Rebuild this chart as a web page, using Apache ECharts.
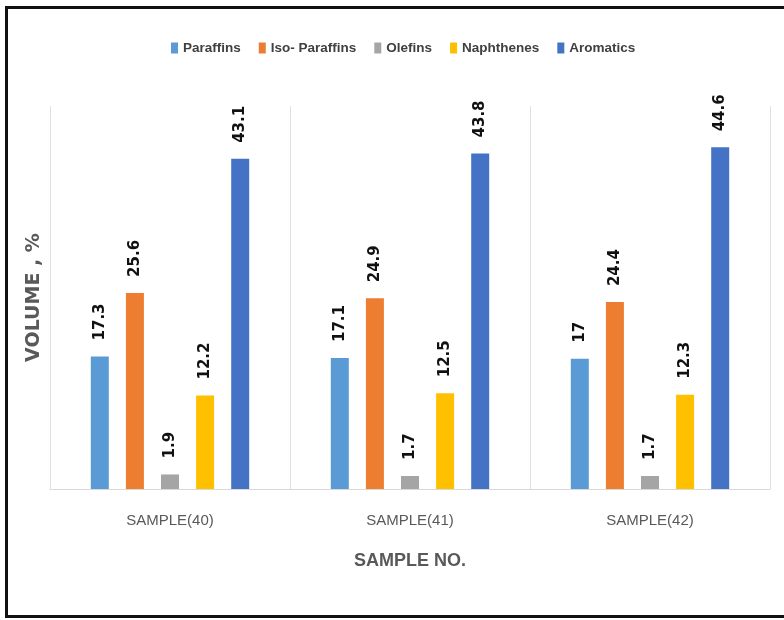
<!DOCTYPE html>
<html>
<head>
<meta charset="utf-8">
<script src="https://cdn.jsdelivr.net/npm/echarts@6/dist/echarts.min.js"></script>
<style>html,body{margin:0;padding:0;background:#fff;}#c{width:784px;height:620px;}</style>
</head>
<body>
<div id="c"></div>
<script>
const categories = ['SAMPLE(40)', 'SAMPLE(41)', 'SAMPLE(42)'];
const seriesNames = ['Paraffins', 'Iso- Paraffins', 'Olefins', 'Naphthenes', 'Aromatics'];
const paraffins = [17.3, 17.1, 17];
const isoParaffins = [25.6, 24.9, 24.4];
const olefins = [1.9, 1.7, 1.7];
const naphthenes = [12.2, 12.5, 12.3];
const aromatics = [43.1, 43.8, 44.6];
const seriesValues = [paraffins, isoParaffins, olefins, naphthenes, aromatics];
const colors = ['#5B9BD5', '#ED7D31', '#A5A5A5', '#FFC000', '#4472C4'];

const chart = echarts.init(document.getElementById('c'), null, {renderer: 'canvas'});
chart.setOption({
  animation: false,
  backgroundColor: '#fff',
  color: colors,
  graphic: [{
    type: 'rect',
    shape: {x: 6.5, y: 7.5, width: 800, height: 609},
    style: {fill: 'none', stroke: '#111', lineWidth: 3},
    z: 100
  }],
  legend: {
    left: 166,
    top: 36,
    itemWidth: 7,
    itemHeight: 11,
    itemGap: 18,
    icon: 'rect',
    textStyle: {fontFamily: '"Liberation Sans", Arial, sans-serif', fontSize: 13.5, fontWeight: 'bold', color: '#404040'},
    data: seriesNames
  },
  grid: {left: 50, right: 14, top: 106, bottom: 131, containLabel: false},
  xAxis: {
    type: 'category',
    data: categories,
    name: 'SAMPLE NO.',
    nameLocation: 'middle',
    nameGap: 63,
    nameTextStyle: {fontFamily: '"Liberation Sans", Arial, sans-serif', fontSize: 18, fontWeight: 'bold', color: '#595959'},
    axisLine: {lineStyle: {color: '#d9d9d9', width: 1}},
    axisTick: {show: false},
    splitLine: {show: true, lineStyle: {color: '#e0e0e0', width: 1}},
    axisLabel: {margin: 24, fontFamily: '"Liberation Sans", Arial, sans-serif', fontSize: 15, color: '#595959'}
  },
  yAxis: {
    type: 'value',
    min: 0,
    max: 50,
    name: 'VOLUME , %',
    nameLocation: 'middle',
    nameGap: 6,
    nameRotate: 90,
    nameTextStyle: {fontFamily: '"DejaVu Sans", sans-serif', fontSize: 19, fontWeight: 'bold', color: '#595959'},
    axisLine: {show: false},
    axisTick: {show: false},
    axisLabel: {show: false},
    splitLine: {show: false}
  },
  series: seriesNames.map((n, i) => ({
    name: n,
    type: 'bar',
    data: seriesValues[i],
    barWidth: 18,
    barGap: '95%',
    label: {
      show: true,
      position: 'top',
      rotate: 90,
      align: 'left',
      verticalAlign: 'middle',
      distance: 16,
      fontFamily: '"DejaVu Sans", sans-serif',
      fontSize: 15,
      fontWeight: 'bold',
      color: '#111'
    }
  }))
});
</script>
</body>
</html>
